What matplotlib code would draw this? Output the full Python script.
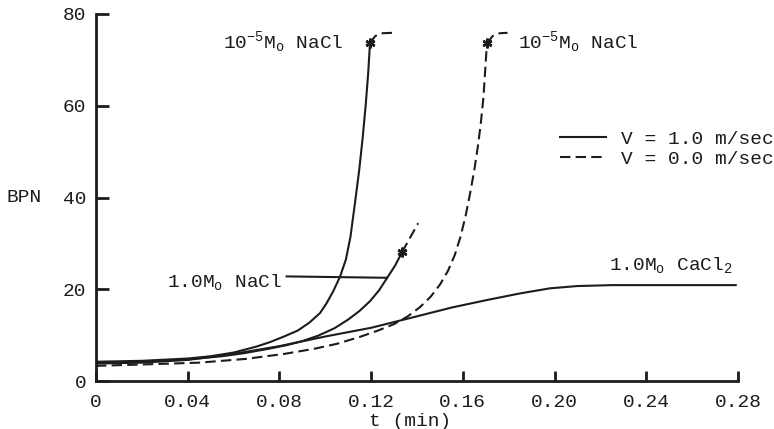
import matplotlib
matplotlib.use("Agg")
import matplotlib.pyplot as plt
from matplotlib.lines import Line2D

plt.rcParams['font.family'] = ['Liberation Mono', 'DejaVu Sans Mono']
plt.rcParams['mathtext.fontset'] = 'custom'
plt.rcParams['mathtext.rm'] = 'Liberation Mono'
plt.rcParams['mathtext.it'] = 'Liberation Mono'
plt.rcParams['mathtext.bf'] = 'Liberation Mono'

# ---- data ----
# 10^-5 Mo NaCl, V = 1.0 m/sec
a_t = [0, 0.02, 0.04, 0.05, 0.06, 0.07, 0.076, 0.082, 0.088, 0.093, 0.0977, 0.1005,
       0.1034, 0.1064, 0.109, 0.111, 0.113, 0.1148, 0.1163, 0.1176, 0.1187, 0.1195]
a_y = [4.2, 4.4, 4.9, 5.4, 6.2, 7.5, 8.5, 9.7, 11.0, 12.7, 14.8, 16.9,
       19.5, 22.7, 26.5, 31.5, 39.0, 46.0, 53.0, 60.0, 67.0, 73.7]
a_ext_t = [0.1195, 0.1218, 0.1245, 0.1295]
a_ext_y = [73.7, 75.2, 75.8, 75.9]

# 1.0 Mo NaCl, V = 1.0 m/sec
b_t = [0, 0.02, 0.04, 0.055, 0.065, 0.075, 0.083, 0.09, 0.097, 0.104, 0.11, 0.115,
       0.1195, 0.1235, 0.127, 0.1305, 0.1335]
b_y = [4.0, 4.2, 4.7, 5.4, 6.1, 7.0, 7.8, 8.7, 9.9, 11.5, 13.4, 15.3,
       17.4, 19.8, 22.5, 25.2, 28.1]
b_ext_t = [0.1335, 0.1405]
b_ext_y = [28.1, 34.4]

# 1.0 Mo CaCl2, V = 1.0 m/sec
c_t = [0, 0.02, 0.04, 0.06, 0.08, 0.10, 0.12, 0.14, 0.155, 0.17, 0.185, 0.198,
       0.21, 0.225, 0.25, 0.279]
c_y = [3.8, 4.0, 4.6, 5.9, 7.6, 9.7, 11.6, 14.1, 16.0, 17.6, 19.1, 20.2,
       20.7, 20.9, 20.9, 20.9]

# 10^-5 Mo NaCl, V = 0.0 m/sec
d_t = [0, 0.02, 0.045, 0.065, 0.082, 0.095, 0.105, 0.115, 0.123, 0.13, 0.1357,
       0.1413, 0.146, 0.150, 0.1535, 0.1565, 0.159, 0.1612, 0.1632, 0.165, 0.1665,
       0.1678, 0.169, 0.1705]
d_y = [3.3, 3.6, 4.0, 4.8, 5.9, 7.0, 8.1, 9.6, 11.0, 12.4, 14.0,
       16.1, 18.4, 21.0, 24.0, 27.5, 31.5, 36.0, 41.0, 46.0, 51.0,
       56.0, 62.0, 73.6]
d_ext_t = [0.1705, 0.173, 0.176, 0.1795]
d_ext_y = [73.6, 75.2, 75.8, 75.9]

x_ticks = [0, 0.04, 0.08, 0.12, 0.16, 0.20, 0.24, 0.28]
x_tick_labels = ['0', '0.04', '0.08', '0.12', '0.16', '0.20', '0.24', '0.28']
y_ticks = [0, 20, 40, 60, 80]
y_tick_labels = ['0', '20', '40', '60', '80']

legend_labels = ['V = 1.0 m/sec', 'V = 0.0 m/sec']

# ---- figure ----
ink = '#1c1c1c'
lw = 1.5
dash = (0, (5, 2.5))

fig = plt.figure(figsize=(7.74, 4.29), dpi=100)
ax = fig.add_axes([96 / 774, 48 / 429, 642 / 774, 367 / 429])

ax.plot(a_t, a_y, color=ink, lw=lw)
ax.plot(a_ext_t, a_ext_y, color=ink, lw=lw, ls=dash)
ax.plot(b_t, b_y, color=ink, lw=lw)
ax.plot(b_ext_t, b_ext_y, color=ink, lw=lw, ls=dash)
ax.plot(c_t, c_y, color=ink, lw=lw)
ax.plot(d_t, d_y, color=ink, lw=lw, ls=dash)
ax.plot(d_ext_t, d_ext_y, color=ink, lw=lw, ls=dash)

# end-of-data markers
ax.plot([a_t[-1], b_t[-1], d_t[-1]], [a_y[-1], b_y[-1], d_y[-1]], ls='none',
        marker=(6, 2, 0), ms=7, mew=1.8, color=ink)

ax.set_xlim(0, 0.28)
ax.set_ylim(0, 80)
for s in ['top', 'right']:
    ax.spines[s].set_visible(False)
for s in ['left', 'bottom']:
    ax.spines[s].set_linewidth(2.0)
    ax.spines[s].set_color(ink)

ax.set_xticks(x_ticks)
ax.set_xticklabels(x_tick_labels)
ax.set_yticks(y_ticks)
ax.set_yticklabels(y_tick_labels)
ax.tick_params(axis='both', direction='in', width=2, color=ink, labelsize=14,
               labelcolor=ink)
ax.tick_params(axis='x', length=7, pad=9.5)
ax.tick_params(axis='y', length=9, pad=7)

ax.set_xlabel('t (min)', fontsize=14, color=ink, va='center')
ax.xaxis.set_label_coords(0.49, -0.11)
ax.set_ylabel('BPN', fontsize=14, color=ink, rotation=0, va='center', ha='center')
ax.yaxis.set_label_coords(-0.112, 0.5)

fs = 14
ax.text(0.0555, 72.4, r'10$^{\mathrm{-5}}$M$_{\mathrm{o}}$ NaCl', fontsize=fs,
        color=ink, ha='left', va='baseline')
ax.text(0.1840, 72.4, r'10$^{\mathrm{-5}}$M$_{\mathrm{o}}$ NaCl', fontsize=fs,
        color=ink, ha='left', va='baseline')
ax.text(0.2238, 24.2, r'1.0M$_{\mathrm{o}}$ CaCl$_{\mathrm{2}}$', fontsize=fs,
        color=ink, ha='left', va='baseline')
ax.annotate(r'1.0M$_{\mathrm{o}}$ NaCl', xy=(b_t[14], b_y[14]),
            xytext=(0.0310, 20.5), textcoords='data', fontsize=fs, color=ink,
            ha='left', va='baseline',
            arrowprops=dict(arrowstyle='-', color=ink, lw=1.5,
                            shrinkA=1, shrinkB=0, relpos=(1.0, 0.78)))

handles = [Line2D([], [], color=ink, lw=lw),
           Line2D([], [], color=ink, lw=lw, ls=dash)]
ax.legend(handles, legend_labels, loc='center left',
          bbox_to_anchor=(0.722, 0.632), frameon=False, fontsize=fs,
          handlelength=2.4, handletextpad=0.75, labelspacing=0.12,
          borderpad=0, borderaxespad=0, labelcolor=ink)

fig.savefig('out.png', dpi=100, facecolor='white')
